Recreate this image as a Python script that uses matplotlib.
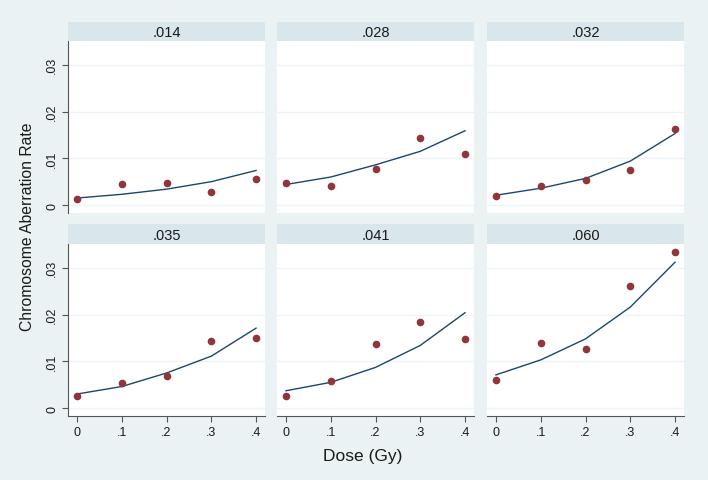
import numpy as np
import matplotlib.pyplot as plt

plt.rcParams['font.family'] = ['Liberation Sans', 'DejaVu Sans']

dose = [0, 0.1, 0.2, 0.3, 0.4]
panels = ['.014', '.028', '.032', '.035', '.041', '.060']

# observed aberration rates (dots)
obs_014 = [0.0014, 0.0046, 0.0047, 0.0027, 0.0055]
obs_028 = [0.0048, 0.0040, 0.0078, 0.0144, 0.0109]
obs_032 = [0.0019, 0.0041, 0.0053, 0.0075, 0.0162]
obs_035 = [0.0026, 0.0053, 0.0068, 0.0144, 0.0149]
obs_041 = [0.0026, 0.0058, 0.0137, 0.0185, 0.0147]
obs_060 = [0.0061, 0.0139, 0.0127, 0.0262, 0.0333]

# fitted curve
fit_014 = [0.0015, 0.0023, 0.0034, 0.0050, 0.0074]
fit_028 = [0.0044, 0.0060, 0.0086, 0.0115, 0.0159]
fit_032 = [0.0021, 0.0036, 0.0057, 0.0094, 0.0153]
fit_035 = [0.0030, 0.0046, 0.0075, 0.0111, 0.0171]
fit_041 = [0.0037, 0.0055, 0.0087, 0.0134, 0.0204]
fit_060 = [0.0071, 0.0103, 0.0148, 0.0216, 0.0312]

obs = [obs_014, obs_028, obs_032, obs_035, obs_041, obs_060]
fit = [fit_014, fit_028, fit_032, fit_035, fit_041, fit_060]

yticks = [0, 0.01, 0.02, 0.03]
ytlabels = ['0', '.01', '.02', '.03']
xticks = [0, 0.1, 0.2, 0.3, 0.4]
xtlabels = ['0', '.1', '.2', '.3', '.4']

bg = '#EAF2F3'
strip_col = '#D9E6EB'
navy = '#1A476F'
maroon = '#90353B'
txt = '#1a1a1a'

W, H = 708, 481
fig = plt.figure(figsize=(W/100, H/100), dpi=100, facecolor=bg)

cols = [(68, 265), (277, 474), (487, 684)]
rows = [(23, 42, 214), (225, 245, 417)]

def box(x0, x1, y0, y1):
    return [x0/W, 1 - y1/H, (x1-x0)/W, (y1-y0)/H]

for i in range(6):
    r, c = divmod(i, 3)
    x0, x1 = cols[c]
    s0, p0, p1 = rows[r]

    sax = fig.add_axes(box(x0, x1, s0, p0))
    sax.set_facecolor(strip_col)
    sax.set_xticks([]); sax.set_yticks([])
    for sp in sax.spines.values():
        sp.set_visible(False)
    sax.text(0.5, 0.47, panels[i], ha='center', va='center', fontsize=10.5, color=txt)

    ax = fig.add_axes(box(x0, x1, p0, p1))
    ax.set_facecolor('white')
    ax.set_xlim(-0.02, 0.42)
    ax.set_ylim(-0.0017, 0.0351)
    for yv in yticks:
        ax.axhline(yv, color='#EEF4F6', lw=1.0, zorder=0)
    ax.plot(dose, fit[i], color=navy, lw=1.0, zorder=2)
    ax.plot(dose, obs[i], 'o', color=maroon, ms=4.5, mec=maroon, zorder=3)

    for sp in ax.spines.values():
        sp.set_visible(False)
    ax.set_yticks(yticks)
    ax.set_xticks(xticks)
    if c == 0:
        ax.spines['left'].set_visible(True)
        ax.spines['left'].set_color('#555555')
        ax.spines['left'].set_linewidth(0.8)
        ax.set_yticklabels(ytlabels, rotation=90, va='center', fontsize=9, color=txt)
        ax.tick_params(axis='y', length=4, color='#555555', pad=3)
    else:
        ax.tick_params(axis='y', left=False, labelleft=False)
    if r == 1:
        ax.spines['bottom'].set_visible(True)
        ax.spines['bottom'].set_color('#555555')
        ax.spines['bottom'].set_linewidth(0.8)
        ax.set_xticklabels(xtlabels, fontsize=9, color=txt)
        ax.tick_params(axis='x', length=4, color='#555555', pad=3)
    else:
        ax.tick_params(axis='x', bottom=False, labelbottom=False)

fig.text(363/W, 1 - 456/H, 'Dose (Gy)', ha='center', va='center', fontsize=12.5, color=txt)
fig.text(28/W, 1 - 227/H, 'Chromosome Aberration Rate', ha='center', va='center',
         rotation=90, fontsize=11.3, color=txt)

fig.savefig('out.png', dpi=100, facecolor=bg)
